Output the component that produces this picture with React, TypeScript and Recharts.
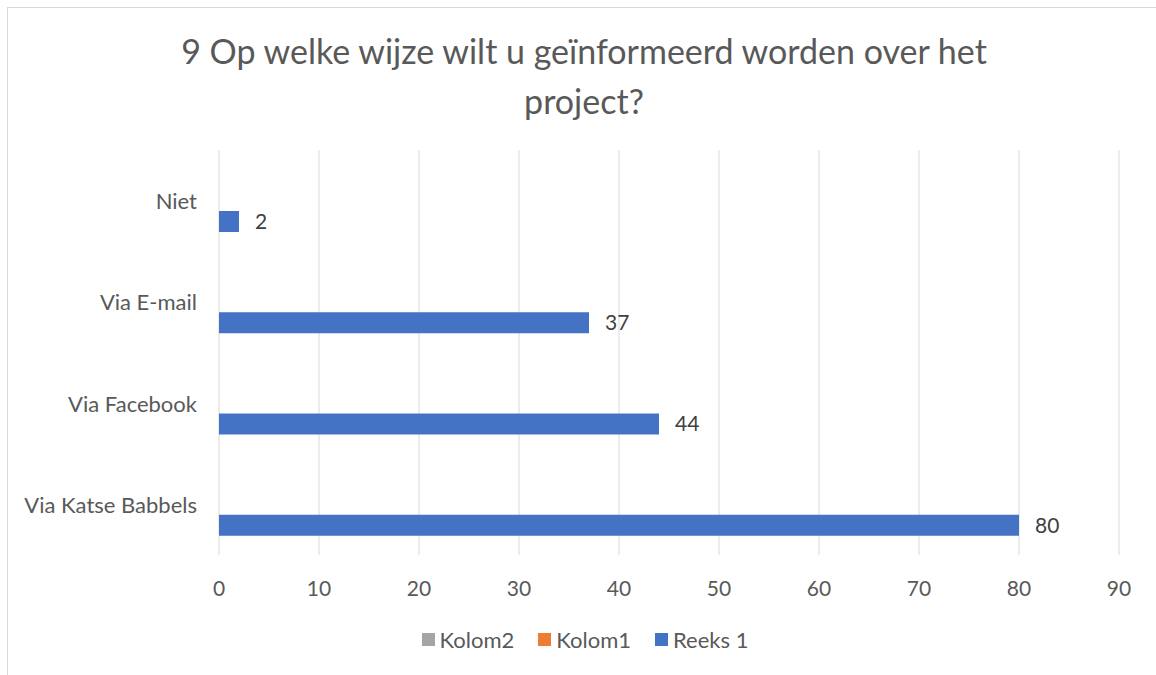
import React from 'react';
import { BarChart, Bar, XAxis, YAxis, CartesianGrid, Legend, LabelList } from 'recharts';

const categories = ['Niet', 'Via E-mail', 'Via Facebook', 'Via Katse Babbels'];
const reeks1 = [2, 37, 44, 80];
const kolom1: (number | null)[] = [null, null, null, null];
const kolom2: (number | null)[] = [null, null, null, null];
const xTicks = [0, 10, 20, 30, 40, 50, 60, 70, 80, 90];

const seriesInfo = [
  { key: 'kolom2', name: 'Kolom2', color: '#A5A5A5' },
  { key: 'kolom1', name: 'Kolom1', color: '#ED7D31' },
  { key: 'reeks1', name: 'Reeks 1', color: '#4472C4' },
];

const data = categories.map((c, i) => ({
  name: c,
  kolom2: kolom2[i],
  kolom1: kolom1[i],
  reeks1: reeks1[i],
}));

const FONT = 'Lato, "Open Sans", sans-serif';

const CategoryTick = (props: any) => {
  const { y, payload } = props;
  return (
    <text x={197} y={y} textAnchor="end" dominantBaseline="central" fill="#595959" fontSize={22} fontFamily={FONT}>
      {payload.value}
    </text>
  );
};

const LegendContent = () => (
  <div style={{ display: 'flex', justifyContent: 'center', gap: 24, fontFamily: FONT, fontSize: 22, color: '#595959' }}>
    {seriesInfo.map((s) => (
      <div key={s.key} style={{ display: 'flex', alignItems: 'center' }}>
        <span style={{ display: 'inline-block', width: 13, height: 13, background: s.color, marginRight: 5 }} />
        {s.name}
      </div>
    ))}
  </div>
);

export default function App() {
  return (
    <div style={{ position: 'absolute', left: 0, top: 0, width: 1156, height: 675, background: '#fff', overflow: 'hidden' }}>
      <div style={{ position: 'absolute', left: 7, top: 7, right: -2, bottom: -2, border: '1px solid #d9d9d9' }} />
      <div style={{ position: 'absolute', left: 0, top: 26, width: 1168, textAlign: 'center', fontFamily: FONT, fontSize: 34, lineHeight: '50px', color: '#595959' }}>
        9 Op welke wijze wilt u geïnformeerd worden over het<br />project?
      </div>
      <div style={{ position: 'absolute', left: 0, top: 0 }}>
        <BarChart
          width={1156}
          height={675}
          layout="vertical"
          data={data}
          margin={{ top: 150, right: 37, bottom: 80, left: 0 }}
          barCategoryGap={19}
          barGap={0}
        >
          <CartesianGrid horizontal={false} stroke="#d9d9d9" strokeWidth={1} />
          <XAxis
            type="number"
            domain={[0, 90]}
            ticks={xTicks}
            axisLine={false}
            tickLine={false}
            height={40}
            tickMargin={20}
            tick={{ fill: '#595959', fontSize: 21, fontFamily: FONT }}
          />
          <YAxis type="category" dataKey="name" width={219} axisLine={false} tickLine={false} tick={<CategoryTick />} />
          <Legend
            verticalAlign="middle"
            align="center"
            layout="horizontal"
            wrapperStyle={{ position: 'absolute', top: 626, left: 0, width: 1170 }}
            content={<LegendContent />}
          />
          {seriesInfo.map((s) => (
            <Bar key={s.key} dataKey={s.key} name={s.name} fill={s.color} isAnimationActive={false}>
              {s.key === 'reeks1' && (
                <LabelList dataKey="reeks1" position="right" offset={16} fill="#404040" fontSize={21} fontFamily={FONT} />
              )}
            </Bar>
          ))}
        </BarChart>
      </div>
    </div>
  );
}
